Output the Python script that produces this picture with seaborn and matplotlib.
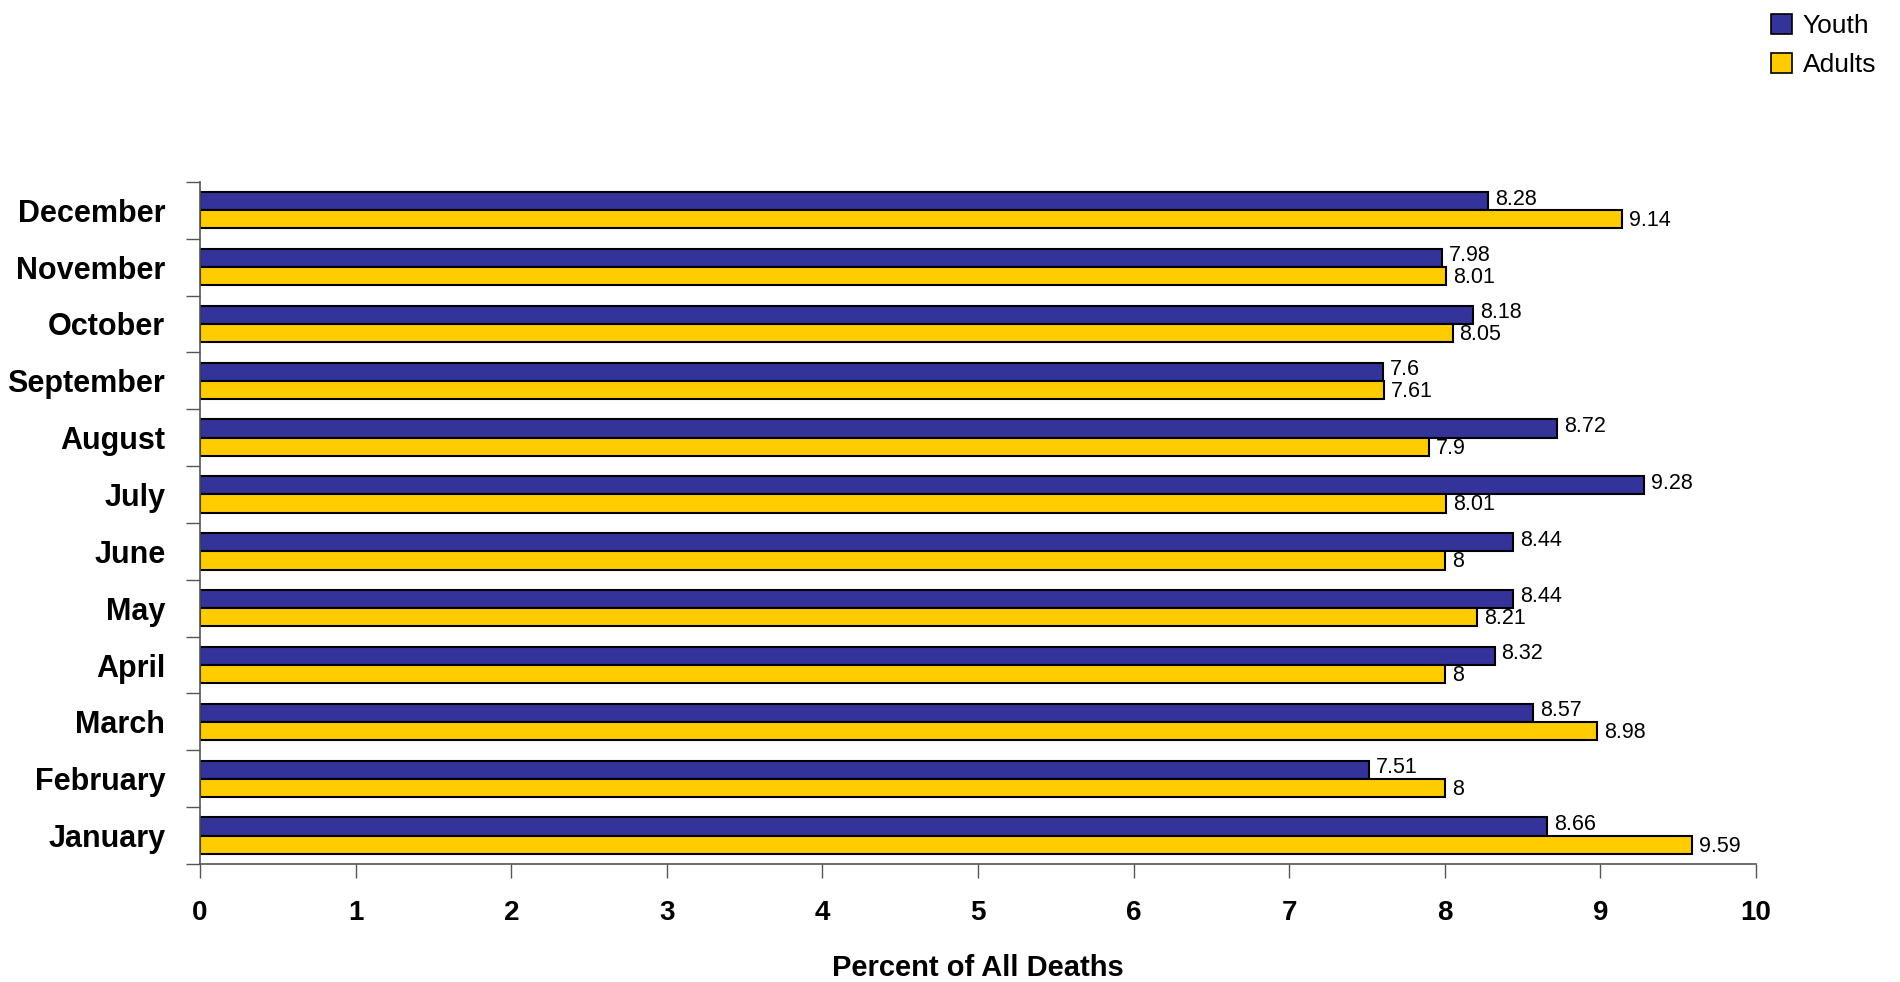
import matplotlib
matplotlib.use("Agg")
import matplotlib.pyplot as plt
from matplotlib.patches import Patch
import seaborn as sns
import pandas as pd
import numpy as np

months = ["December", "November", "October", "September", "August", "July",
          "June", "May", "April", "March", "February", "January"]
youth = [8.28, 7.98, 8.18, 7.6, 8.72, 9.28, 8.44, 8.44, 8.32, 8.57, 7.51, 8.66]
adults = [9.14, 8.01, 8.05, 7.61, 7.9, 8.01, 8, 8.21, 8, 8.98, 8, 9.59]
groups = ["Youth", "Adults"]
colors = {"Youth": "#333399", "Adults": "#FFCC00"}
x_ticks = [0, 1, 2, 3, 4, 5, 6, 7, 8, 9, 10]
x_label = "Percent of All Deaths"

df = pd.DataFrame({
    "Month": months * 2,
    "Group": ["Youth"] * len(months) + ["Adults"] * len(months),
    "Value": youth + adults,
})

sns.set_style("white")
plt.rcParams["font.family"] = ["Liberation Sans", "DejaVu Sans"]
plt.rcParams["text.color"] = "black"
plt.rcParams["xtick.color"] = "#555555"
plt.rcParams["ytick.color"] = "#555555"
plt.rcParams["xtick.labelcolor"] = "black"
plt.rcParams["ytick.labelcolor"] = "black"
plt.rcParams["axes.labelcolor"] = "black"

fig = plt.figure(figsize=(19, 9.82), dpi=100)
ax = fig.add_axes([0.1053, 0.1202, 0.8189, 0.6946])

sns.barplot(data=df, y="Month", x="Value", hue="Group", order=months,
            hue_order=groups, palette=colors, orient="h", width=0.64,
            gap=0, edgecolor="black", linewidth=1.5, saturation=1,
            legend=False, ax=ax)

# value labels: youth nudged up, adults nudged down so the pairs stay readable
for cont, dy in zip(ax.containers, [1.5, -1.0]):
    texts = ax.bar_label(cont, labels=[f"{v:g}" for v in cont.datavalues],
                         padding=5, fontsize=15.5, color="black")
    for t in texts:
        t.xyann = (t.xyann[0], dy)

ax.set_xlim(0, 10)
ax.set_ylim(len(months) - 0.5, -0.5)
ax.set_xticks(x_ticks)
ax.set_xticklabels([str(t) for t in x_ticks], fontsize=20, fontweight="bold")
ax.tick_params(axis="x", bottom=True, direction="out", length=10, width=1,
               pad=16)
ax.set_yticks(range(len(months)))
ax.set_yticklabels(months, fontsize=22, fontweight="bold")
ax.tick_params(axis="y", which="major", left=True, length=0, pad=25)
ax.set_yticks(np.arange(-0.5, len(months), 1), minor=True)
ax.tick_params(axis="y", which="minor", left=True, direction="out",
               length=10, width=1)

ax.set_ylabel("")
ax.set_xlabel(x_label, fontsize=21, fontweight="bold")
ax.xaxis.set_label_coords(0.5, -0.152)
ax.xaxis.label.set_va("center")

for side in ["top", "right"]:
    ax.spines[side].set_visible(False)
for side in ["left", "bottom"]:
    ax.spines[side].set_color("#555555")
    ax.spines[side].set_linewidth(1.2)

handles = [Patch(facecolor=colors[g], edgecolor="black", linewidth=1.2, label=g)
           for g in groups]
fig.legend(handles=handles, loc="upper right", bbox_to_anchor=(1.0, 1.01),
           frameon=False, fontsize=19, handlelength=0.8, handleheight=0.8,
           handletextpad=0.4, labelspacing=0.55)

fig.savefig("out.png", dpi=100)
